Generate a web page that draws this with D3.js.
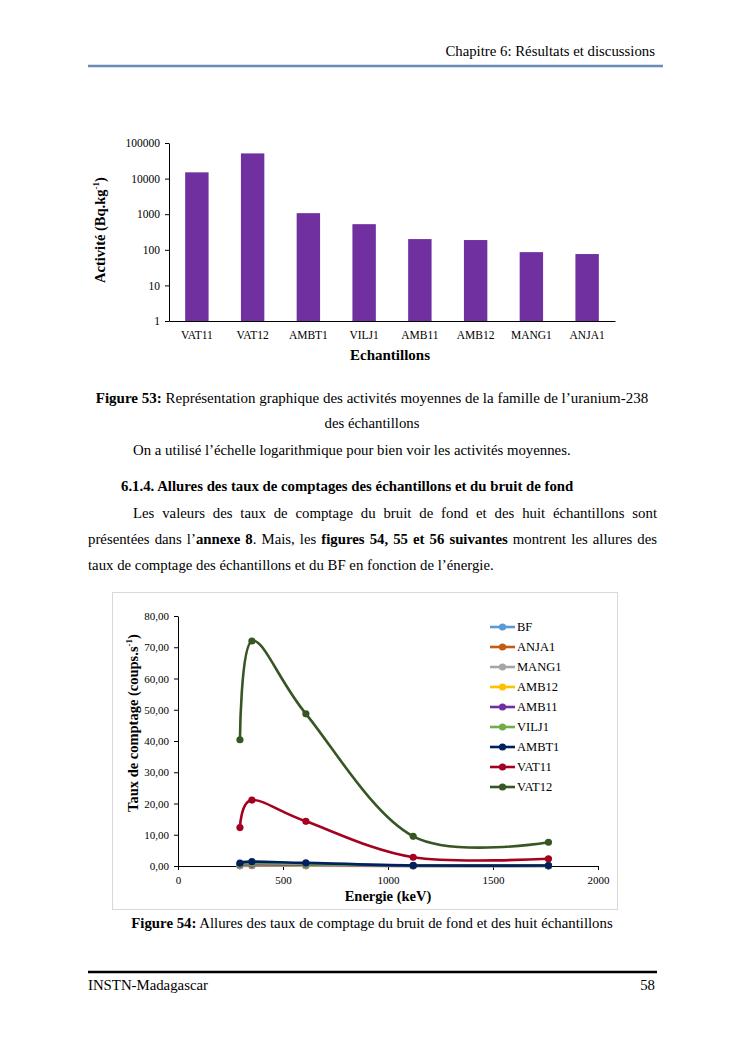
<!DOCTYPE html>
<html>
<head>
<meta charset="utf-8"/>
<title>Chapitre 6</title>
<script src="https://cdn.jsdelivr.net/npm/d3@7"></script>
<style>
  body { margin:0; background:#fff; }
  svg { display:block; }
</style>
</head>
<body>
<script>
// ---- data: figure 53 (log bars)
const echantillons = ["VAT11","VAT12","AMBT1","VILJ1","AMB11","AMB12","MANG1","ANJA1"];
const activites = [15000, 51000, 1070, 525, 200, 188, 86, 76];
const barTicks = [1, 10, 100, 1000, 10000, 100000];

// ---- data: figure 54 (count rates vs energy)
const energies = [295, 352, 609, 1120, 1764];
const seriesNames = ["BF","ANJA1","MANG1","AMB12","AMB11","VILJ1","AMBT1","VAT11","VAT12"];
const tauxBF    = [0.05, 0.08, 0.06, 0.02, 0.03];
const tauxANJA1 = [0.15, 0.20, 0.15, 0.05, 0.05];
const tauxMANG1 = [0.18, 0.25, 0.18, 0.06, 0.06];
const tauxAMB12 = [0.35, 0.50, 0.35, 0.10, 0.08];
const tauxAMB11 = [0.38, 0.55, 0.38, 0.10, 0.09];
const tauxVILJ1 = [0.60, 0.90, 0.60, 0.15, 0.12];
const tauxAMBT1 = [0.90, 1.40, 1.00, 0.18, 0.15];
const tauxVAT11 = [12.3, 21.1, 14.3, 2.8, 2.3];
const tauxVAT12 = [40.4, 72.0, 48.7, 9.5, 7.6];
const lineXTicks = [0, 500, 1000, 1500, 2000];
const lineYTicks = [0, 10, 20, 30, 40, 50, 60, 70, 80];

const allTaux = [tauxBF, tauxANJA1, tauxMANG1, tauxAMB12, tauxAMB11, tauxVILJ1, tauxAMBT1, tauxVAT11, tauxVAT12];
const couleurs = ["#5b9bd5","#c55a11","#a5a5a5","#ffc000","#7030a0","#70ad47","#002060","#a50021","#375623"];

const W = 745, H = 1053, FS = 14.8;
const svg = d3.select("body").append("svg")
   .attr("width", W).attr("height", H)
   .style("font-family", "'Liberation Serif','Times New Roman',serif");
svg.append("rect").attr("width", W).attr("height", H).attr("fill", "#fff");

// text helpers
function rich(parent, x, y, segs, anchor, fs){
  var t = parent.append("text").attr("x", x).attr("y", y)
     .attr("text-anchor", anchor || "start").attr("font-size", fs || FS).attr("fill", "#000");
  segs.forEach(function(s){
    t.append("tspan").text(s[0]).attr("font-weight", s[1] ? "bold" : "normal");
  });
  return t;
}
// split segments into words, keep bold pieces glued where there is no space
function justify(parent, x0, x1, y, segs, fs){
  var words = [[]];
  segs.forEach(function(s){
    var parts = s[0].split(" ");
    parts.forEach(function(p, k){
      if (k > 0) words.push([]);
      if (p.length) words[words.length-1].push([p, s[1]]);
    });
  });
  words = words.filter(function(w){ return w.length; });
  var nodes = words.map(function(w){ return rich(parent, 0, y, w, "start", fs); });
  var widths = nodes.map(function(n){ return n.node().getComputedTextLength(); });
  var gap = (x1 - x0 - d3.sum(widths)) / (words.length - 1);
  var x = x0;
  nodes.forEach(function(n, i){ n.attr("x", x); x += widths[i] + gap; });
}

// header / footer
rich(svg, 655, 56, [["Chapitre 6: Résultats et discussions", false]], "end");
svg.append("line").attr("x1", 88).attr("x2", 663).attr("y1", 66).attr("y2", 66)
   .attr("stroke", "#6a8db3").attr("stroke-width", 2.5);
svg.append("line").attr("x1", 88).attr("x2", 657).attr("y1", 972).attr("y2", 972)
   .attr("stroke", "#000").attr("stroke-width", 2.5);
rich(svg, 88, 990, [["INSTN-Madagascar", false]], "start");
rich(svg, 655, 990, [["58", false]], "end");

// body text
rich(svg, 372, 403, [["Figure 53:", true], [" Représentation graphique des activités moyennes de la famille de l’uranium-238", false]], "middle", 15);
rich(svg, 372, 428, [["des échantillons", false]], "middle");
rich(svg, 133, 455, [["On a utilisé l’échelle logarithmique pour bien voir les activités moyennes.", false]], "start");
rich(svg, 121, 491, [["6.1.4. Allures des taux de comptages des échantillons et du bruit de fond", true]], "start");
justify(svg, 133, 657, 518, [["Les valeurs des taux de comptage du bruit de fond et des huit échantillons sont", false]]);
justify(svg, 88, 657, 544, [["présentées dans l’", false], ["annexe 8", true], [". Mais, les ", false],
  ["figures 54, 55 et 56 suivantes", true], [" montrent les allures des", false]]);
rich(svg, 88, 570, [["taux de comptage des échantillons et du BF en fonction de l’énergie.", false]], "start");
rich(svg, 372, 928, [["Figure 54:", true], [" Allures des taux de comptage du bruit de fond et des huit échantillons", false]], "middle");

// ---------- figure 53 : bars, log scale
var bx0 = 169, bx1 = 615, byTop = 143, byBot = 321;
var xBand = d3.scaleBand().domain(echantillons).range([bx0, bx1]).paddingInner(0.58).paddingOuter(0.29);
var yLog = d3.scaleLog().domain([1, 100000]).range([byBot, byTop]);
var g1 = svg.append("g");

g1.selectAll("rect.bar").data(activites).enter().append("rect")
  .attr("class", "bar")
  .attr("x", function(d, i){ return xBand(echantillons[i]); })
  .attr("width", xBand.bandwidth())
  .attr("y", function(d){ return yLog(d); })
  .attr("height", function(d){ return byBot - yLog(d); })
  .attr("fill", "#7030a0");

var ay1 = g1.append("g").attr("transform", "translate(" + bx0 + ",0)")
  .call(d3.axisLeft(yLog).tickValues(barTicks).tickFormat(d3.format("d")).tickSize(4).tickSizeOuter(0).tickPadding(5));
var ax1 = g1.append("g").attr("transform", "translate(0," + byBot + ")")
  .call(d3.axisBottom(xBand).tickSize(0).tickSizeOuter(0).tickPadding(10));
[ay1, ax1].forEach(function(a){
  a.selectAll("text").attr("font-family", "'Liberation Serif',serif").attr("font-size", 11.5).attr("fill", "#000");
  a.selectAll("path,line").attr("stroke", "#000");
});
var t1 = g1.append("text").attr("transform", "translate(105,230) rotate(-90)")
  .attr("text-anchor", "middle").attr("font-size", 14.5).attr("font-weight", "bold");
t1.append("tspan").text("Activité (Bq.kg");
t1.append("tspan").text("-1").attr("font-size", 9).attr("dy", -6);
t1.append("tspan").text(")").attr("dy", 6);
g1.append("text").attr("x", 390).attr("y", 360).attr("text-anchor", "middle")
  .attr("font-size", 15).attr("font-weight", "bold").text("Echantillons");

// ---------- figure 54 : smoothed lines
svg.append("rect").attr("x", 112.5).attr("y", 592.5).attr("width", 505).attr("height", 317)
  .attr("fill", "none").attr("stroke", "#d9d9d9");
var xLin = d3.scaleLinear().domain([0, 2000]).range([178, 598]);
var yLin = d3.scaleLinear().domain([0, 80]).range([866, 616]);
var g2 = svg.append("g");
var fmt = function(d){ return d3.format(".2f")(d).replace(".", ","); };

var ay2 = g2.append("g").attr("transform", "translate(178,0)")
  .call(d3.axisLeft(yLin).tickValues(lineYTicks).tickFormat(fmt).tickSize(4).tickSizeOuter(0).tickPadding(5));
var ax2 = g2.append("g").attr("transform", "translate(0,866)")
  .call(d3.axisBottom(xLin).tickValues(lineXTicks).tickFormat(d3.format("d")).tickSize(4).tickSizeOuter(0).tickPadding(6));
[ay2, ax2].forEach(function(a){
  a.selectAll("text").attr("font-family", "'Liberation Serif',serif").attr("font-size", 11).attr("fill", "#000");
  a.selectAll("path,line").attr("stroke", "#000");
});

var line = d3.line().x(function(d, i){ return xLin(energies[i]); }).y(function(d){ return yLin(d); })
  .curve(d3.curveCardinal);
allTaux.forEach(function(serie, k){
  g2.append("path").datum(serie).attr("d", line).attr("fill", "none")
    .attr("stroke", couleurs[k]).attr("stroke-width", 2.6).attr("stroke-linejoin", "round");
  g2.selectAll(null).data(serie).enter().append("circle")
    .attr("cx", function(d, i){ return xLin(energies[i]); })
    .attr("cy", function(d){ return yLin(d); })
    .attr("r", 3.6).attr("fill", couleurs[k]);
});

// legend
var leg = g2.append("g");
seriesNames.forEach(function(n, i){
  var y = 627 + i * 20;
  leg.append("line").attr("x1", 490).attr("x2", 515).attr("y1", y).attr("y2", y)
    .attr("stroke", couleurs[i]).attr("stroke-width", 2.6);
  leg.append("circle").attr("cx", 502.5).attr("cy", y).attr("r", 3.6).attr("fill", couleurs[i]);
  leg.append("text").attr("x", 517).attr("y", y).attr("dy", "0.35em").attr("font-size", 12.5).text(n);
});

var t2 = g2.append("text").attr("transform", "translate(138,723) rotate(-90)")
  .attr("text-anchor", "middle").attr("font-size", 14.5).attr("font-weight", "bold");
t2.append("tspan").text("Taux de comptage (coups.s");
t2.append("tspan").text("-1").attr("font-size", 9).attr("dy", -6);
t2.append("tspan").text(")").attr("dy", 6);
g2.append("text").attr("x", 388).attr("y", 901).attr("text-anchor", "middle")
  .attr("font-size", 14.5).attr("font-weight", "bold").text("Energie (keV)");
</script>
</body>
</html>
